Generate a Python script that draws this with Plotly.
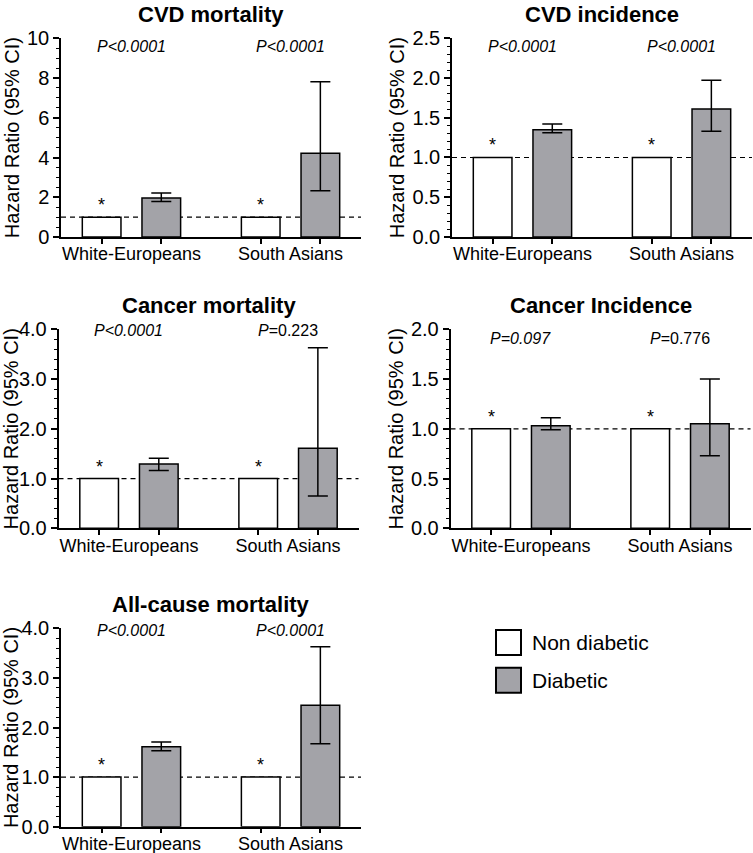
import plotly.graph_objects as go

W, H = 753, 853
FONT = 'Liberation Sans, Arial, sans-serif'

groups = ['White-Europeans', 'South Asians']
series = ['Non diabetic', 'Diabetic']
titles = ['CVD mortality', 'CVD incidence', 'Cancer mortality',
          'Cancer Incidence', 'All-cause mortality']

# non diabetic is the reference group (HR = 1)
ref_hr = [1.0, 1.0]

# diabetic hazard ratios with 95% CI, [White-Europeans, South Asians]
cvd_mort_hr = [1.96, 4.22]
cvd_mort_lo = [1.79, 2.33]
cvd_mort_hi = [2.21, 7.81]

cvd_inc_hr = [1.35, 1.61]
cvd_inc_lo = [1.31, 1.33]
cvd_inc_hi = [1.42, 1.97]

cancer_mort_hr = [1.29, 1.61]
cancer_mort_lo = [1.16, 0.65]
cancer_mort_hi = [1.41, 3.63]

cancer_inc_hr = [1.03, 1.05]
cancer_inc_lo = [0.99, 0.73]
cancer_inc_hi = [1.11, 1.50]

allcause_hr = [1.61, 2.45]
allcause_lo = [1.53, 1.67]
allcause_hi = [1.71, 3.63]

pvals = [
    ['<i>P&lt;0.0001</i>', '<i>P&lt;0.0001</i>'],
    ['<i>P&lt;0.0001</i>', '<i>P&lt;0.0001</i>'],
    ['<i>P&lt;0.0001</i>', '<i>P</i>=0.223'],
    ['<i>P=0.097</i>', '<i>P</i>=0.776'],
    ['<i>P&lt;0.0001</i>', '<i>P&lt;0.0001</i>'],
]

y_max = [10, 2.5, 4, 2, 4]
y_dtick = [2, 0.5, 1, 0.5, 1]
y_minor = [0.5, 0.1, 0.2, 0.1, 0.2]
y_fmt = ['d', '.1f', '.1f', '.1f', '.1f']

panels = [
    (cvd_mort_hr, cvd_mort_lo, cvd_mort_hi),
    (cvd_inc_hr, cvd_inc_lo, cvd_inc_hi),
    (cancer_mort_hr, cancer_mort_lo, cancer_mort_hi),
    (cancer_inc_hr, cancer_inc_lo, cancer_inc_hi),
    (allcause_hr, allcause_lo, allcause_hi),
]

# plot boxes in pixels: left, right, top, bottom
boxes = [
    (61, 361, 38.3, 237),
    (452, 752, 38.2, 237),
    (58.5, 358.5, 329.3, 528.3),
    (450.5, 750.5, 329.3, 528.3),
    (61, 361, 628.3, 826.7),
]
p_offset = [8.5, 8.7, 1, 9, 2]   # px below top of axis

WHITE = '#ffffff'
GREY = '#a3a3a8'
BAR_OFF = 0.1875   # half of a bar slot, in category units
X_RANGE = [-0.443, 1.443]

fig = go.Figure()
annotations = []
shapes = []
gx = list(range(len(groups)))

for i, (hr, lo, hi) in enumerate(panels):
    n = '' if i == 0 else str(i + 1)
    xa, ya = 'x' + n, 'y' + n
    fig.add_trace(go.Bar(x=gx, y=ref_hr, name=series[0], offsetgroup='a',
                         marker=dict(color=WHITE,
                                     line=dict(color='black', width=1.5)),
                         xaxis=xa, yaxis=ya, showlegend=False))
    fig.add_trace(go.Bar(x=gx, y=hr, name=series[1], offsetgroup='b',
                         marker=dict(color=GREY,
                                     line=dict(color='black', width=1.5)),
                         error_y=dict(type='data',
                                      array=[h - m for h, m in zip(hi, hr)],
                                      arrayminus=[m - l for m, l in zip(hr, lo)],
                                      color='black', thickness=1.5, width=10),
                         xaxis=xa, yaxis=ya, showlegend=False))

    l, r, t, b = boxes[i]
    ax_x = 'xaxis' + n
    ax_y = 'yaxis' + n
    fig.layout[ax_x] = dict(
        domain=[l / W, r / W], anchor=ya, range=X_RANGE, automargin=False,
        tickmode='array', tickvals=gx, ticktext=groups, ticks='',
        minor=dict(tickmode='array', ticks='outside', ticklen=5,
                   tickwidth=1.5, tickcolor='black',
                   tickvals=[g + s * BAR_OFF for g in gx for s in (-1, 1)]),
        showline=True, linecolor='black', linewidth=1.5,
        showgrid=False, zeroline=False, fixedrange=True,
        tickfont=dict(size=18, color='black', family=FONT))
    fig.layout[ax_y] = dict(
        domain=[1 - b / H, 1 - t / H], anchor=xa, range=[0, y_max[i]],
        automargin=False,
        dtick=y_dtick[i], tick0=0, tickformat=y_fmt[i],
        ticks='outside', ticklen=6, tickwidth=1.5, tickcolor='black',
        minor=dict(dtick=y_minor[i], ticks='outside', ticklen=3,
                   tickwidth=1, tickcolor='black'),
        showline=True, linecolor='black', linewidth=1.5,
        showgrid=False, zeroline=False,
        tickfont=dict(size=20, color='black', family=FONT),
        title=dict(text='Hazard Ratio (95% CI)', standoff=2,
                   font=dict(size=20, color='black', family=FONT)))

    # panel title
    annotations.append(dict(text='<b>' + titles[i] + '</b>',
                            xref=xa + ' domain', yref=ya + ' domain',
                            x=0.5, y=1, yshift=38, yanchor='top',
                            showarrow=False,
                            font=dict(size=22, color='black', family=FONT)))
    for g in gx:
        annotations.append(dict(text=pvals[i][g], xref=xa,
                                yref=ya + ' domain', x=g, y=1,
                                yshift=-p_offset[i], yanchor='middle',
                                showarrow=False,
                                font=dict(size=16, color='black', family=FONT)))
        annotations.append(dict(text='*', xref=xa, yref=ya,
                                x=g - BAR_OFF, y=ref_hr[g], yanchor='bottom',
                                showarrow=False,
                                font=dict(size=18, color='black', family=FONT)))
    # reference line at HR = 1
    shapes.append(dict(type='line', xref=xa + ' domain', yref=ya,
                       x0=0, x1=1, y0=1, y1=1, layer='below',
                       line=dict(color='black', width=1.2, dash='5px,4px')))

# legend drawn by hand so the swatches match the reference size
legend_fill = [WHITE, GREY]
legend_top = [630, 667.7]
for k, name in enumerate(series):
    y0 = legend_top[k]
    shapes.append(dict(type='rect', xref='paper', yref='paper',
                       x0=496 / W, x1=521 / W,
                       y0=1 - (y0 + 25) / H, y1=1 - y0 / H,
                       fillcolor=legend_fill[k],
                       line=dict(color='black', width=2)))
    annotations.append(dict(text=name, xref='paper', yref='paper',
                            x=530 / W, y=1 - (y0 + 12.5) / H,
                            xanchor='left', yanchor='middle',
                            showarrow=False,
                            font=dict(size=21, color='black', family=FONT)))

fig.update_layout(
    width=W, height=H,
    margin=dict(l=0, r=0, t=0, b=0, autoexpand=False),
    barmode='group', bargap=0.25, bargroupgap=0.352,
    paper_bgcolor='white', plot_bgcolor='white',
    font=dict(family=FONT, color='black'),
    annotations=annotations, shapes=shapes,
    showlegend=False,
)

# the page body has a default 8px margin; drop it so the figure sits at 0,0
fig.write_html('out.html', config={'displayModeBar': False},
               post_script="document.body.style.margin='0px';")
